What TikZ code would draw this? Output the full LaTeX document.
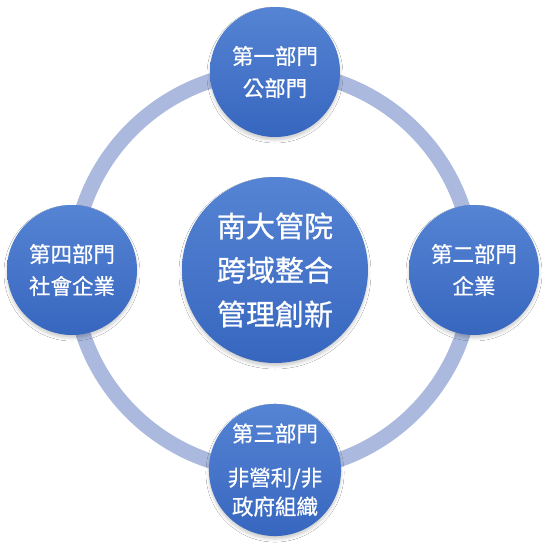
\documentclass[tikz,border=0pt]{standalone}
\usepackage{fontspec}
\setmainfont{Noto Sans CJK TC}[FakeBold=0.7]
\usetikzlibrary{shadows.blur}
\definecolor{ringc}{HTML}{AAB9DD}
\definecolor{topc}{HTML}{5584D4}
\definecolor{botc}{HTML}{3766BF}
\tikzset{
  bubble/.style={circle, minimum size=130pt, inner sep=0pt, top color=topc, bottom color=botc, draw=none,
    text=white, font=\fontsize{21.5}{32}\selectfont, align=center,
    blur shadow={shadow xshift=0pt, shadow yshift=-3pt, shadow blur radius=3pt, shadow opacity=20}},
  hub/.style={bubble, minimum size=186pt, font=\fontsize{29}{44}\selectfont}
}
\begin{document}
\begin{tikzpicture}[x=1pt,y=-1pt]
\useasboundingbox (0,0) rectangle (547,550);
\fill[white] (0,0) rectangle (547,550);
\coordinate (o) at (273,271);
\draw[ringc, line width=15pt] (o) circle[radius=200pt];
\node[hub] (c) at (275,270) {南大管院\\跨域整合\\管理創新};
\node[bubble] (t) at (275,72) {第一部門\\公部門};
\node[bubble] (r) at (474,270) {第二部門\\企業};
\node[bubble] (l) at (72,270) {第四部門\\社會企業};
\node[bubble] (b) at (275,470) {第三部門\\[12pt]非營利/非\\[-3pt]政府組織};
\end{tikzpicture}
\end{document}
